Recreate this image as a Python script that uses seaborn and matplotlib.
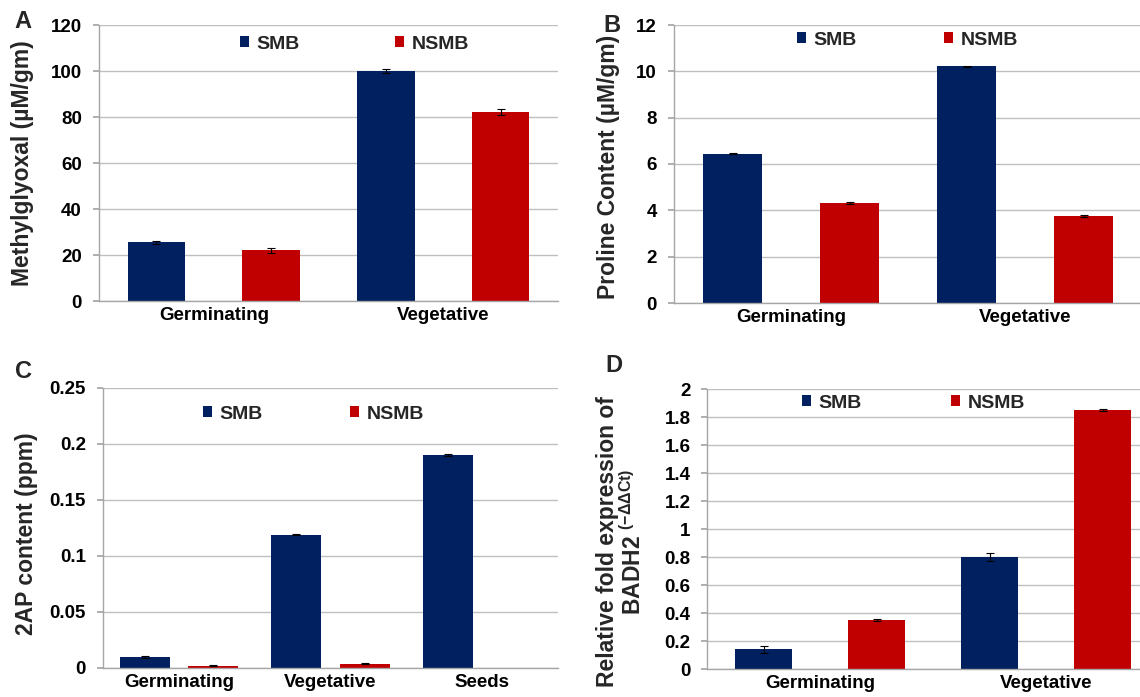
import matplotlib
matplotlib.use("Agg")
import matplotlib.pyplot as plt
import matplotlib.ticker as mticker
from matplotlib.patches import Patch
import numpy as np
import pandas as pd
import seaborn as sns

GROUPS = ["SMB", "NSMB"]
COLORS = {"SMB": "#002060", "NSMB": "#C00000"}

stages_two = ["Germinating", "Vegetative"]
stages_three = ["Germinating", "Vegetative", "Seeds"]

# A: methylglyoxal (uM/gm)
mg_smb = [25.6, 100.0]
mg_smb_err = [0.7, 1.0]
mg_nsmb = [22.0, 82.0]
mg_nsmb_err = [1.2, 1.3]
mg_ticks = [0, 20, 40, 60, 80, 100, 120]

# B: proline content (uM/gm)
pro_smb = [6.45, 10.22]
pro_smb_err = [0.03, 0.03]
pro_nsmb = [4.32, 3.75]
pro_nsmb_err = [0.03, 0.03]
pro_ticks = [0, 2, 4, 6, 8, 10, 12]

# C: 2AP content (ppm), nothing for NSMB seeds
ap_smb = [0.010, 0.119, 0.190]
ap_smb_err = [0.001, 0.0005, 0.001]
ap_nsmb = [0.002, 0.004, np.nan]
ap_nsmb_err = [0.0003, 0.0008, np.nan]
ap_ticks = [0, 0.05, 0.1, 0.15, 0.2, 0.25]

# D: BADH2 relative fold expression
badh_smb = [0.14, 0.80]
badh_smb_err = [0.025, 0.03]
badh_nsmb = [0.35, 1.85]
badh_nsmb_err = [0.01, 0.008]
badh_ticks = [0, 0.2, 0.4, 0.6, 0.8, 1, 1.2, 1.4, 1.6, 1.8, 2]

W, H = 1140, 697


def make_frame(stages, smb, smb_err, nsmb, nsmb_err):
    df = pd.DataFrame({
        "stage": stages * 2,
        "group": ["SMB"] * len(stages) + ["NSMB"] * len(stages),
        "value": smb + nsmb,
        "err": smb_err + nsmb_err,
    })
    return df.dropna()


def px_rect(left, top, right, bottom):
    return [left / W, 1 - bottom / H, (right - left) / W, (bottom - top) / H]


def draw_panel(fig, box, df, stages, ticks, ylabel, letter, letter_xy,
               label_xy, legend_xy, colspacing, width, gap, ypad):
    ax = fig.add_axes(px_rect(*box))
    sns.barplot(data=df, x="stage", y="value", hue="group", order=stages,
                hue_order=GROUPS, palette=COLORS, width=width, gap=gap,
                errorbar=None, saturation=1, legend=False, linewidth=0, ax=ax)

    for container, group in zip(ax.containers, GROUPS):
        sub = df[df["group"] == group].set_index("stage")
        for bar in container:
            x = bar.get_x() + bar.get_width() / 2
            stage = stages[int(round(x))]
            ax.errorbar(x, sub.loc[stage, "value"], yerr=sub.loc[stage, "err"],
                        color="black", lw=0.8, capsize=3, capthick=0.8)

    ax.set_xlim(-0.5, len(stages) - 0.5)
    ax.set_ylim(0, ticks[-1])
    ax.set_yticks(ticks)
    ax.yaxis.set_major_formatter(mticker.FuncFormatter(lambda v, p: f"{v:g}"))
    ax.set_xlabel("")
    ax.set_ylabel(ylabel, fontsize=16.5, fontweight="bold", va="center",
                  linespacing=1.1)
    ax.yaxis.set_label_coords(*label_xy)

    ax.yaxis.grid(True, color="#BFBFBF", lw=1)
    ax.xaxis.grid(False)
    ax.set_axisbelow(True)
    for side in ["top", "right"]:
        ax.spines[side].set_visible(False)
    for side in ["left", "bottom"]:
        ax.spines[side].set_color("#A6A6A6")
        ax.spines[side].set_linewidth(1)
    ax.tick_params(axis="y", left=True, length=4.3, color="#A6A6A6",
                   pad=ypad, labelsize=13.5, labelcolor="black")
    ax.tick_params(axis="x", length=0, pad=4.5, labelsize=13.5, labelcolor="black")

    handles = [Patch(facecolor=COLORS[g], edgecolor="none", label=g) for g in GROUPS]
    ax.legend(handles=handles, loc="center left", bbox_to_anchor=legend_xy,
              ncol=2, frameon=False, fontsize=14, handlelength=0.45,
              handleheight=0.45, handletextpad=0.4, columnspacing=colspacing,
              borderpad=0, borderaxespad=0)

    fig.text(letter_xy[0] / W, 1 - letter_xy[1] / H, letter, fontsize=17,
             fontweight="bold", ha="center", va="center")
    return ax


def main():
    sns.set_theme(style="whitegrid")
    plt.rcParams["font.family"] = ["Liberation Sans", "DejaVu Sans"]
    plt.rcParams["font.weight"] = "bold"
    plt.rcParams["mathtext.fontset"] = "custom"
    plt.rcParams["mathtext.rm"] = "Liberation Sans"
    plt.rcParams["mathtext.bf"] = "Liberation Sans:bold"

    fig = plt.figure(figsize=(W / 100, H / 100), dpi=100)
    fig.patch.set_facecolor("white")

    df_a = make_frame(stages_two, mg_smb, mg_smb_err, mg_nsmb, mg_nsmb_err)
    df_b = make_frame(stages_two, pro_smb, pro_smb_err, pro_nsmb, pro_nsmb_err)
    df_c = make_frame(stages_three, ap_smb, ap_smb_err, ap_nsmb, ap_nsmb_err)
    df_d = make_frame(stages_two, badh_smb, badh_smb_err, badh_nsmb, badh_nsmb_err)

    draw_panel(fig, (99, 25, 558, 301), df_a, stages_two, mg_ticks,
               "Methylglyoxal (\u00b5M/gm)", "A", (23, 22),
               ((22 - 99) / 459, 0.5), ((240 - 99) / 459, 0.931), 4.9,
               1.0, 0.5, 8)
    draw_panel(fig, (674, 25, 1142, 303), df_b, stages_two, pro_ticks,
               "Proline Content (\u00b5M/gm)", "B", (612, 25),
               ((608 - 674) / 468, 0.49), ((797 - 674) / 468, 0.946), 4.5,
               1.0, 0.5, 8)
    draw_panel(fig, (103, 388, 558, 668), df_c, stages_three, ap_ticks,
               "2AP content (ppm)", "C", (23, 372),
               ((27 - 103) / 455, 0.48), ((203 - 103) / 455, 0.907), 4.5,
               0.9, 0.27, 8)
    draw_panel(fig, (707, 389, 1159, 669), df_d, stages_two, badh_ticks,
               "Relative fold expression of\nBADH2 $^{\\mathregular{(-\u0394\u0394Ct)}}$",
               "D", (614, 366),
               ((621 - 707) / 452, 0.455), ((802 - 707) / 452, 0.95), 4.6,
               1.0, 0.5, 7.5)

    fig.savefig("out.png", dpi=100, facecolor="white")


if __name__ == "__main__":
    main()
